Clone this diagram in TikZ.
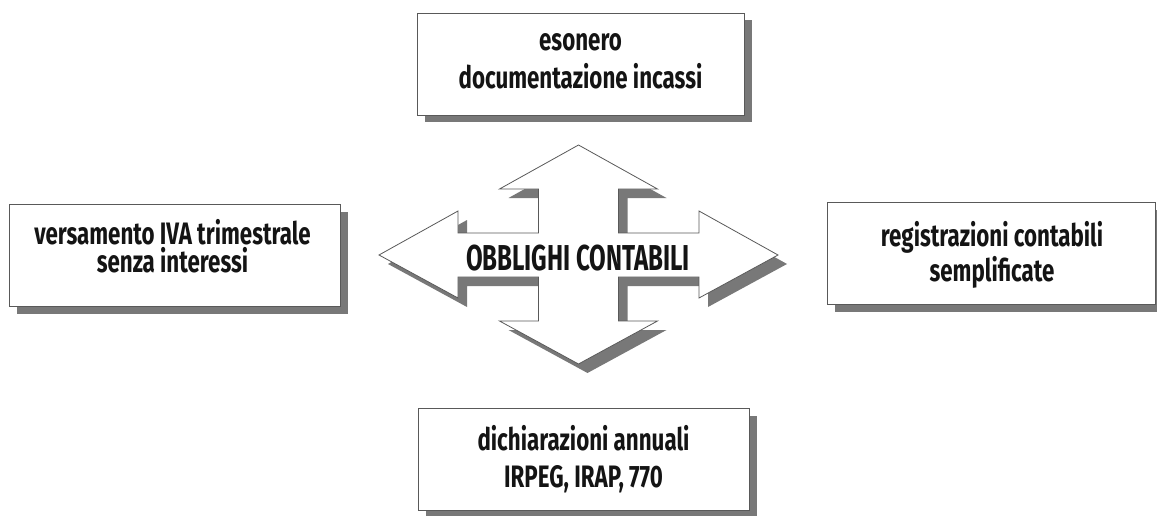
\documentclass[tikz,border=0pt]{standalone}
\usepackage{fontspec}
\usetikzlibrary{shadows}
\newfontfamily\labelfont[FakeStretch=0.72]{Fira Sans}
\newfontfamily\titlefont[FakeStretch=0.67]{Fira Sans}
\definecolor{shade}{gray}{0.47}
\definecolor{ink}{gray}{0.08}
\definecolor{edge}{gray}{0.35}
\tikzset{
  infobox/.style={draw=edge, line width=0.9pt, fill=white, rectangle,
    minimum width=#1, minimum height=102pt, inner sep=0pt,
    drop shadow={shadow xshift=8pt, shadow yshift=-7pt, fill=shade, opacity=1}},
  boxtext/.style={align=center, inner sep=0pt, text=ink,
    font=\labelfont\bfseries\fontsize{31}{28}\selectfont},
  bigarrow/.style={draw=edge, line width=0.8pt, fill=white,
    drop shadow={shadow xshift=9pt, shadow yshift=-9pt, fill=shade, opacity=1}},
  titletext/.style={text=ink, font=\titlefont\bfseries\fontsize{36}{36}\selectfont, inner sep=0pt}
}
\begin{document}
\begin{tikzpicture}[x=1pt, y=-1pt]
\useasboundingbox (0,0) rectangle (1157,516);

% four-way arrow in the centre
\draw[bigarrow]
  (578.5,145) -- (657.5,189) -- (618.5,189) -- (618.5,233) -- (699,233) -- (699,211)
  -- (778,255) -- (699,298) -- (699,277) -- (618.5,277) -- (618.5,321) -- (657.5,321)
  -- (578.5,364) -- (499.5,321) -- (538.5,321) -- (538.5,277) -- (458,277) -- (458,298)
  -- (379,255) -- (458,211) -- (458,233) -- (538.5,233) -- (538.5,189) -- (499.5,189)
  -- cycle;
\node[titletext] (title) at (578,258) {OBBLIGHI CONTABILI};

% the four surrounding boxes
\node[infobox=327pt] (topbox) at (580.5,64) {};
\node[infobox=331pt] (leftbox) at (174.5,255.5) {};
\node[infobox=328pt] (rightbox) at (991,253.5) {};
\node[infobox=331pt] (bottombox) at (583.5,459.5) {};

% their texts
\node[boxtext] (toptext) at (580.5,61) {esonero\\[10pt]documentazione incassi};
\node[boxtext] (lefttext) at (172.5,246) {versamento IVA trimestrale\\senza interessi};
\node[boxtext] (righttext) at (992,255) {registrazioni contabili\\[2pt]semplificate};
\node[boxtext] (bottomtext) at (583.5,459) {dichiarazioni annuali\\[9pt]IRPEG, IRAP, 770};
\end{tikzpicture}
\end{document}
